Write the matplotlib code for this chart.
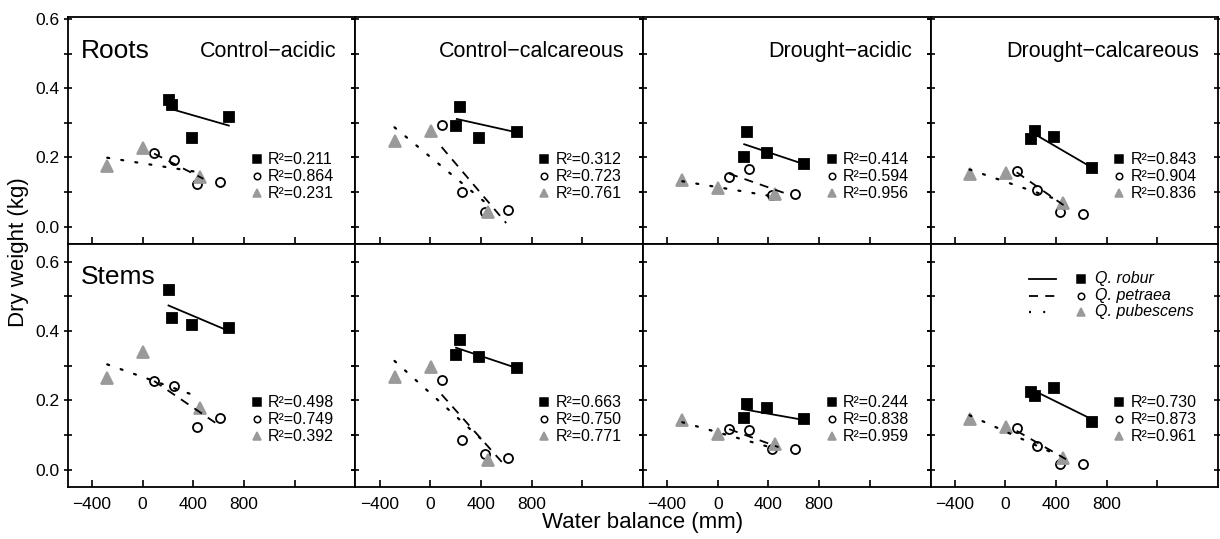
import numpy as np
import matplotlib
matplotlib.use('Agg')
import matplotlib.pyplot as plt

plt.rcParams['font.family'] = ['Liberation Sans', 'DejaVu Sans']

# water balance (mm) of the sites of each species
robur_x = [205, 232, 386, 685]
petraea_x = [90, 248, 432, 613]
pubescens_x = [-281, 5, 455]

organs = ['Roots', 'Stems']
treatments = ['Control\u2212acidic', 'Control\u2212calcareous',
              'Drought\u2212acidic', 'Drought\u2212calcareous']
species = ['Q. robur', 'Q. petraea', 'Q. pubescens']

# dry weight (kg): [organ][treatment][site]
robur_y = [
    [[0.367, 0.352, 0.257, 0.316], [0.292, 0.345, 0.257, 0.272],
     [0.202, 0.272, 0.214, 0.180], [0.253, 0.275, 0.259, 0.170]],
    [[0.518, 0.438, 0.418, 0.409], [0.331, 0.374, 0.326, 0.293],
     [0.150, 0.190, 0.177, 0.145], [0.225, 0.213, 0.237, 0.138]],
]
petraea_y = [
    [[0.214, 0.193, 0.123, 0.130], [0.294, 0.100, 0.042, 0.047],
     [0.144, 0.167, 0.090, 0.094], [0.162, 0.107, 0.042, 0.037]],
    [[0.256, 0.243, 0.124, 0.150], [0.259, 0.086, 0.044, 0.035],
     [0.118, 0.115, 0.059, 0.059], [0.121, 0.068, 0.016, 0.016]],
]
pubescens_y = [
    [[0.175, 0.228, 0.144], [0.246, 0.275, 0.041],
     [0.136, 0.112, 0.094], [0.152, 0.155, 0.068]],
    [[0.265, 0.339, 0.179], [0.268, 0.297, 0.028],
     [0.142, 0.104, 0.075], [0.145, 0.123, 0.035]],
]

# regression lines: (x start, x end, y start, y end)
robur_fit = [
    [(205, 680, 0.342, 0.292), (210, 687, 0.311, 0.272),
     (209, 685, 0.238, 0.180), (205, 687, 0.273, 0.170)],
    [(204, 682, 0.474, 0.400), (204, 687, 0.352, 0.293),
     (209, 687, 0.174, 0.143), (205, 687, 0.232, 0.145)],
]
petraea_fit = [
    [(90, 480, 0.211, 0.138), (90, 600, 0.230, 0.010),
     (90, 550, 0.153, 0.094), (90, 460, 0.157, 0.062)],
    [(90, 620, 0.256, 0.124), (90, 600, 0.217, 0.008),
     (90, 480, 0.117, 0.065), (90, 480, 0.112, 0.030)],
]
pubescens_fit = [
    [(-280, 445, 0.199, 0.157), (-282, 450, 0.287, 0.065),
     (-280, 440, 0.131, 0.087), (-282, 420, 0.165, 0.077)],
    [(-280, 420, 0.304, 0.213), (-282, 440, 0.314, 0.076),
     (-280, 440, 0.137, 0.062), (-282, 420, 0.157, 0.041)],
]

r2 = [
    [['0.211', '0.864', '0.231'], ['0.312', '0.723', '0.761'],
     ['0.414', '0.594', '0.956'], ['0.843', '0.904', '0.836']],
    [['0.498', '0.749', '0.392'], ['0.663', '0.750', '0.771'],
     ['0.244', '0.838', '0.959'], ['0.730', '0.873', '0.961']],
]

GREY = '#9a9a9a'
styles = [
    dict(marker='s', mfc='black', mec='black', ms=7.5, ls='-', dashes=None),
    dict(marker='o', mfc='white', mec='black', ms=6.5, ls='--', dashes=(5, 5)),
    dict(marker='^', mfc=GREY, mec=GREY, ms=8.5, ls=':', dashes=(0.8, 5.5)),
]
xs = [robur_x, petraea_x, pubescens_x]
ys = [robur_y, petraea_y, pubescens_y]
fits = [robur_fit, petraea_fit, pubescens_fit]

fig, axes = plt.subplots(2, 4, figsize=(12.2, 5.39), dpi=100,
                         gridspec_kw=dict(height_ratios=[0.655, 0.702]))
fig.subplots_adjust(left=0.0557, right=0.9984, top=0.9685, bottom=0.0965,
                    wspace=0, hspace=0)

for r in range(2):
    for c in range(4):
        ax = axes[r, c]
        # points
        for k in range(3):
            st = styles[k]
            ax.plot(xs[k], ys[k][r][c], ls='none', marker=st['marker'],
                    mfc=st['mfc'], mec=st['mec'], ms=st['ms'], mew=1.3,
                    zorder=2 + k)
        # fitted lines on top
        for k in range(3):
            x0, x1, y0, y1 = fits[k][r][c]
            ln, = ax.plot([x0, x1], [y0, y1], color='black', lw=1.3, zorder=6)
            if k == 1:
                ln.set_dashes((5, 4))
            elif k == 2:
                ln.set_dashes((0.9, 5.5))
                ln.set_dash_capstyle('round')
                ln.set_linewidth(1.6)

        # R2 labels
        for k in range(3):
            st = styles[k]
            yy = [0.195, 0.146, 0.097][k]
            ax.plot([900], [yy], ls='none', marker=st['marker'], mfc=st['mfc'],
                    mec=st['mec'], ms=st['ms'] * 0.72, mew=1.1, zorder=7)
            ax.text(990, yy, 'R\u00b2=' + r2[r][c][k], fontsize=11.5,
                    ha='left', va='center')

        ax.set_xlim(-590, 1680)
        ax.set_ylim(-0.05, 0.606 if r == 0 else 0.652)
        ax.set_xticks([-400, 0, 400, 800, 1200])
        ax.set_yticks([0, 0.1, 0.2, 0.3, 0.4, 0.5, 0.6])
        if r == 1:
            ax.set_xticklabels(['\u2212400', '0', '400', '800', ''])
        else:
            ax.set_xticklabels([])
        if c == 0:
            ax.set_yticklabels(['0.0', '', '0.2', '', '0.4', '', '0.6'])
        else:
            ax.set_yticklabels([])
        ax.tick_params(axis='x', direction='in', length=5, width=1.2,
                       labelsize=12.5, pad=7)
        ax.tick_params(axis='y', direction='inout', length=6, width=1.2,
                       labelsize=12.5, pad=3, right=True)
        for sp in ax.spines.values():
            sp.set_linewidth(1.3)

        if r == 0:
            ax.text(0.935, 0.85, treatments[c], transform=ax.transAxes,
                    fontsize=15.5, ha='right', va='center')
    axes[r, 0].text(0.045, 0.85 if r == 0 else 0.865, organs[r],
                    transform=axes[r, 0].transAxes, fontsize=19,
                    ha='left', va='center')

# species key in the last panel
ax = axes[1, 3]
for k in range(3):
    st = styles[k]
    yy = [0.857, 0.787, 0.721][k]
    ln, = ax.plot([0.343, 0.437], [yy, yy], transform=ax.transAxes,
                  color='black', lw=1.3)
    if k == 1:
        ln.set_dashes((5, 4))
    elif k == 2:
        ln.set_dashes((0.9, 5.5))
        ln.set_linewidth(1.6)
    ax.plot([0.524], [yy], transform=ax.transAxes, ls='none',
            marker=st['marker'], mfc=st['mfc'], mec=st['mec'],
            ms=st['ms'] * 0.72, mew=1.1)
    ax.text(0.573, yy, species[k], transform=ax.transAxes, fontsize=11.5,
            style='italic', ha='left', va='center')

fig.text(0.527, 0.03, 'Water balance (mm)', fontsize=16, ha='center',
         va='center')
fig.text(0.015, 0.533, 'Dry weight (kg)', fontsize=16, ha='center',
         va='center', rotation=90)

fig.savefig('out.png', dpi=100)
